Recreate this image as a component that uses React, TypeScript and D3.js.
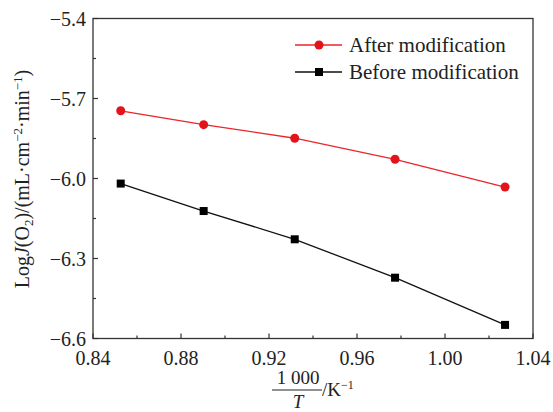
import React, { useEffect, useRef } from "react";
import * as d3 from "d3";

// inverse temperature 1000/T (K^-1)
const invT = [0.8526, 0.8903, 0.9317, 0.9773, 1.0273];
// log J(O2) after modification
const afterVals = [-5.746, -5.798, -5.849, -5.928, -6.032];
// log J(O2) before modification
const beforeVals = [-6.019, -6.122, -6.228, -6.372, -6.549];

const xTicks = [0.84, 0.88, 0.92, 0.96, 1.0, 1.04];
const yTicks = [-5.4, -5.7, -6.0, -6.3, -6.6];
const seriesNames = ["After modification", "Before modification"];

const W = 553;
const H = 412;
const margin = { left: 93, right: 20, top: 18.5, bottom: 73.5 };
const FONT = "Liberation Serif, Times New Roman, Times, serif";

const App = () => {
  const ref = useRef<SVGSVGElement>(null);

  useEffect(() => {
    const svg = d3.select(ref.current);
    svg.selectAll("*").remove();

    const x = d3.scaleLinear().domain([0.84, 1.04]).range([margin.left, W - margin.right]);
    const y = d3.scaleLinear().domain([-6.6, -5.4]).range([H - margin.bottom, margin.top]);

    const g = svg.append("g").style("font-family", FONT).attr("fill", "#222");

    // frame
    g.append("rect")
      .attr("x", x(0.84)).attr("y", y(-5.4))
      .attr("width", x(1.04) - x(0.84)).attr("height", y(-6.6) - y(-5.4))
      .attr("fill", "none").attr("stroke", "#333").attr("stroke-width", 1.3);

    // bottom ticks, inward
    const xMinor = [0.86, 0.9, 0.94, 0.98, 1.02];
    xTicks.forEach((t) => {
      g.append("line").attr("x1", x(t)).attr("x2", x(t))
        .attr("y1", y(-6.6)).attr("y2", y(-6.6) - 5)
        .attr("stroke", "#333").attr("stroke-width", 1.2);
      g.append("text").attr("x", x(t)).attr("y", y(-6.6) + 26)
        .attr("text-anchor", "middle").style("font-size", "20px")
        .text(d3.format(".2f")(t));
    });
    xMinor.forEach((t) => {
      g.append("line").attr("x1", x(t)).attr("x2", x(t))
        .attr("y1", y(-6.6)).attr("y2", y(-6.6) - 3)
        .attr("stroke", "#333").attr("stroke-width", 1.2);
    });

    // left ticks, inward
    const yMinor = [-5.55, -5.85, -6.15, -6.45];
    yTicks.forEach((t) => {
      g.append("line").attr("x1", x(0.84)).attr("x2", x(0.84) + 5)
        .attr("y1", y(t)).attr("y2", y(t))
        .attr("stroke", "#333").attr("stroke-width", 1.2);
      g.append("text").attr("x", x(0.84) - 7).attr("y", y(t) + 7)
        .attr("text-anchor", "end").style("font-size", "20px")
        .text("\u2212" + d3.format(".1f")(Math.abs(t)));
    });
    yMinor.forEach((t) => {
      g.append("line").attr("x1", x(0.84)).attr("x2", x(0.84) + 3)
        .attr("y1", y(t)).attr("y2", y(t))
        .attr("stroke", "#333").attr("stroke-width", 1.2);
    });

    const line = d3.line<number>().x((_, i) => x(invT[i])).y((d) => y(d));

    // before
    g.append("path").attr("d", line(beforeVals)).attr("fill", "none")
      .attr("stroke", "#111").attr("stroke-width", 1.3);
    g.selectAll(".sq").data(beforeVals).enter().append("rect")
      .attr("x", (_, i) => x(invT[i]) - 4).attr("y", (d) => y(d) - 4)
      .attr("width", 8).attr("height", 8).attr("fill", "#000");

    // after
    g.append("path").attr("d", line(afterVals)).attr("fill", "none")
      .attr("stroke", "#e8262b").attr("stroke-width", 1.3);
    g.selectAll(".dot").data(afterVals).enter().append("circle")
      .attr("cx", (_, i) => x(invT[i])).attr("cy", (d) => y(d))
      .attr("r", 4.5).attr("fill", "#e3131b");

    // legend
    const legend = [
      { label: seriesNames[0], color: "#e8262b", shape: "circle", yy: 45 },
      { label: seriesNames[1], color: "#111", shape: "square", yy: 72 },
    ];
    legend.forEach((l) => {
      g.append("line").attr("x1", 295).attr("x2", 342).attr("y1", l.yy).attr("y2", l.yy)
        .attr("stroke", l.color).attr("stroke-width", 1.3);
      if (l.shape === "circle") {
        g.append("circle").attr("cx", 319).attr("cy", l.yy).attr("r", 4.5).attr("fill", "#e3131b");
      } else {
        g.append("rect").attr("x", 315).attr("y", l.yy - 4).attr("width", 8).attr("height", 8).attr("fill", "#000");
      }
      g.append("text").attr("x", 349).attr("y", l.yy + 7)
        .style("font-size", "21px").text(l.label);
    });

    // y label
    const yl = g.append("text")
      .attr("transform", "translate(29,179) rotate(-90)")
      .attr("text-anchor", "middle").style("font-size", "20px");
    yl.append("tspan").text("Log");
    yl.append("tspan").style("font-style", "italic").text("J");
    yl.append("tspan").text("(O");
    yl.append("tspan").style("font-size", "13px").attr("dy", 4).text("2");
    yl.append("tspan").attr("dy", -4).text(")/(mL\u00b7cm");
    yl.append("tspan").style("font-size", "13px").attr("dy", -7).text("\u22122");
    yl.append("tspan").attr("dy", 7).text("\u00b7min");
    yl.append("tspan").style("font-size", "13px").attr("dy", -7).text("\u22121");
    yl.append("tspan").attr("dy", 7).text(")");

    // x label: fraction 1 000 / T
    g.append("text").attr("x", 298).attr("y", 384).attr("text-anchor", "middle")
      .style("font-size", "19px").text("1 000");
    g.append("line").attr("x1", 272).attr("x2", 322).attr("y1", 390).attr("y2", 390)
      .attr("stroke", "#222").attr("stroke-width", 1);
    g.append("text").attr("x", 298).attr("y", 408).attr("text-anchor", "middle")
      .style("font-size", "19px").style("font-style", "italic").text("T");
    const kl = g.append("text").attr("x", 322).attr("y", 396).style("font-size", "19px");
    kl.append("tspan").text("/K");
    kl.append("tspan").style("font-size", "12px").attr("dy", -7).text("\u22121");
  }, []);

  return (
    <svg ref={ref} width={W} height={H}
      style={{ position: "absolute", left: 0, top: 0, background: "#fff" }} />
  );
};

export default App;
